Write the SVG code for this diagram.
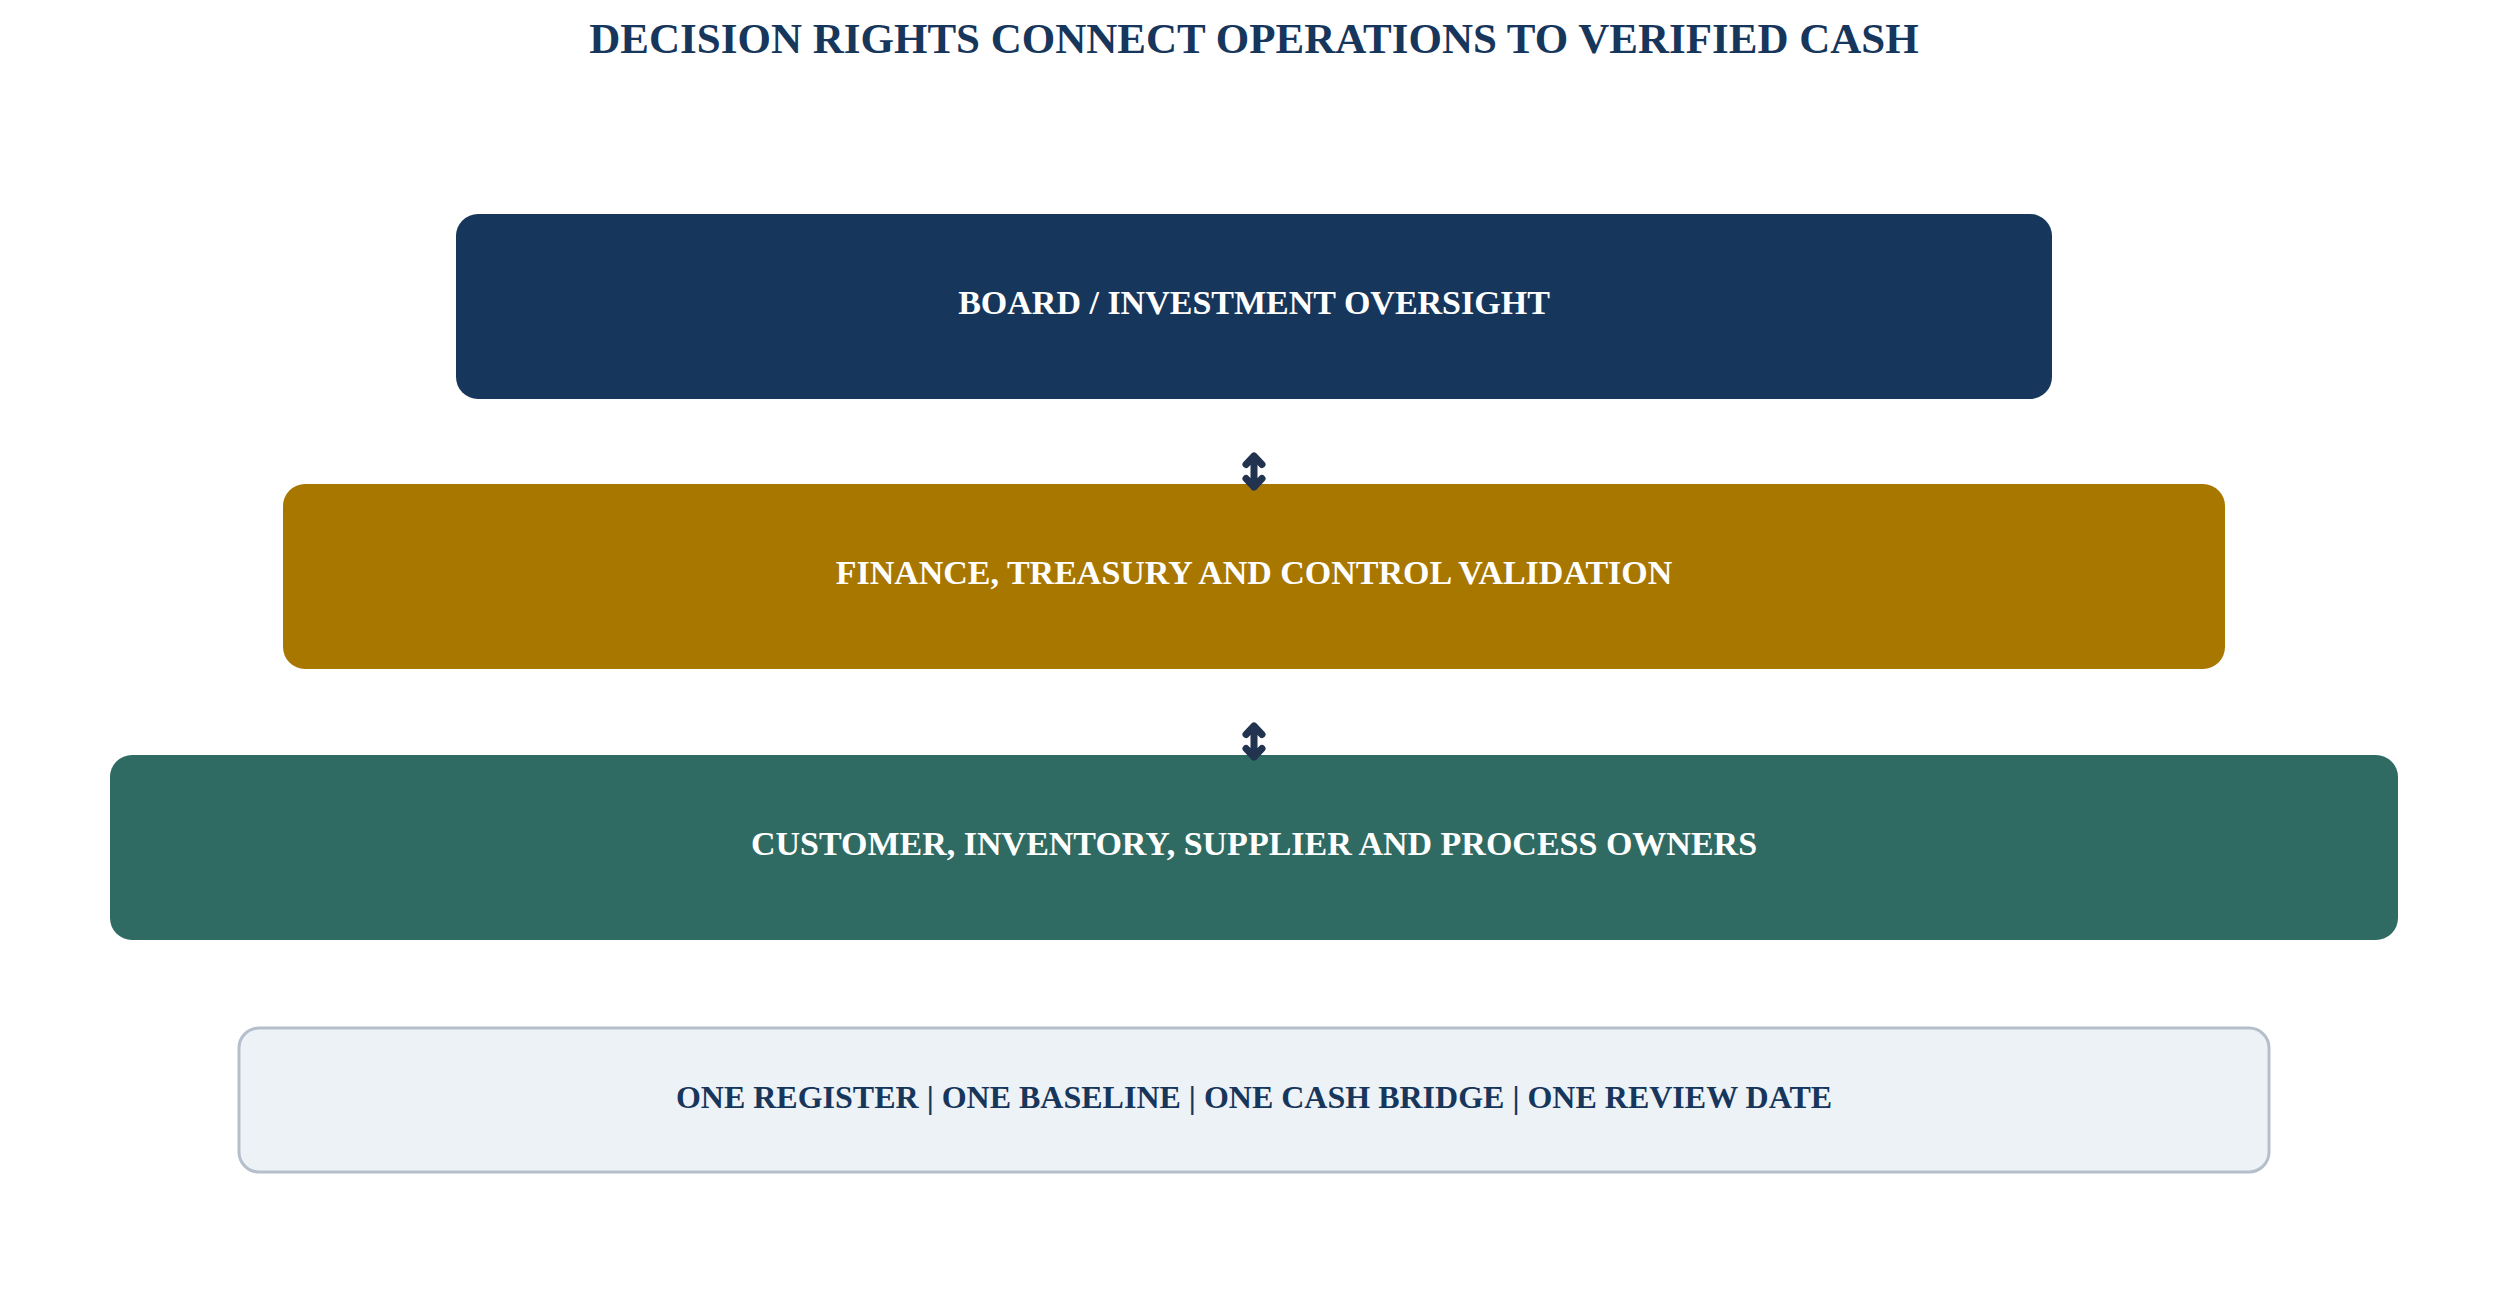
<svg xmlns="http://www.w3.org/2000/svg" width="2508" height="1299" viewBox="0 0 2508 1299">
<style>
.lbl{font-family:"Liberation Serif","Times New Roman",serif;font-weight:bold;text-anchor:middle}
.w{fill:#ffffff;font-size:34px}
.arr{fill:none;stroke:#22334f;stroke-width:7;stroke-linecap:round;stroke-linejoin:round}
</style>
<rect width="2508" height="1299" fill="#ffffff"/>
<text class="lbl" x="1254" y="53" font-size="43" fill="#17365c">DECISION RIGHTS CONNECT OPERATIONS TO VERIFIED CASH</text>
<g id="board">
<rect x="456" y="214" width="1596" height="185" rx="22" fill="#17365c"/>
<text class="lbl w" x="1254" y="314">BOARD / INVESTMENT OVERSIGHT</text>
</g>
<g id="finance">
<rect x="283" y="484" width="1942" height="185" rx="22" fill="#a87700"/>
<text class="lbl w" x="1254" y="584">FINANCE, TREASURY AND CONTROL VALIDATION</text>
</g>
<g id="owners">
<rect x="110" y="755" width="2288" height="185" rx="22" fill="#2f6b63"/>
<text class="lbl w" x="1254" y="855">CUSTOMER, INVENTORY, SUPPLIER AND PROCESS OWNERS</text>
</g>
<g id="register">
<rect x="239" y="1028" width="2030" height="144" rx="20" fill="#edf2f7" stroke="#b5bfcc" stroke-width="3"/>
<text class="lbl" x="1254" y="1108" font-size="32" fill="#17365c">ONE REGISTER | ONE BASELINE | ONE CASH BRIDGE | ONE REVIEW DATE</text>
</g>
<g id="connectors">
<path class="arr" d="M1254 456V487M1246 464.5L1254 456L1262 464.5M1246 478.5L1254 487L1262 478.5"/>
<path class="arr" d="M1254 726V757M1246 734.5L1254 726L1262 734.5M1246 748.5L1254 757L1262 748.5"/>
</g>
</svg>
